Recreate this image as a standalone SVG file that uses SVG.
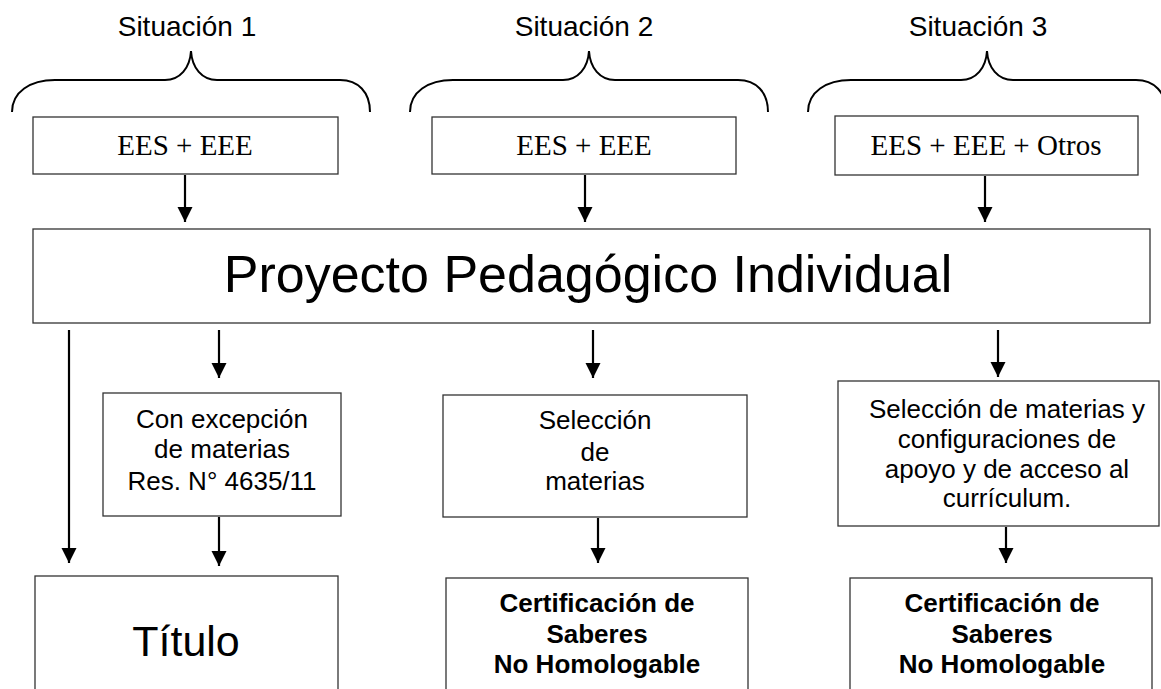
<svg xmlns="http://www.w3.org/2000/svg" width="1161" height="689" viewBox="0 0 1161 689">
<defs>
<marker id="ah" markerUnits="userSpaceOnUse" markerWidth="16" markerHeight="16" refX="15" refY="7.5" orient="auto">
<path d="M0,0 L15,7.5 L0,15 z" fill="#000"/>
</marker>
<style>
.box{fill:#fff;stroke:#333;stroke-width:1.3}
.brace{fill:none;stroke:#000;stroke-width:2}
.arr{stroke:#000;stroke-width:2.2;marker-end:url(#ah)}
.sit{font-family:"Liberation Sans",Arial,sans-serif;font-size:28px;text-anchor:middle;fill:#000}
.tnr{font-family:"Liberation Serif","Times New Roman",serif;font-size:29px;text-anchor:middle;fill:#000}
.t{font-family:"Liberation Sans",Arial,sans-serif;font-size:26px;text-anchor:middle;fill:#000}
.b{font-family:"Liberation Sans",Arial,sans-serif;font-size:26px;font-weight:bold;text-anchor:middle;fill:#000}
</style>
</defs>
<rect width="1161" height="689" fill="#fff"/>
<g id="situacion1">
<text class="sit" x="187" y="36">Situación 1</text>
<path class="brace" d="M12,112 C12,92 30,80 55,80 L165,80 C180,80 190,68 191,51 C192,68 202,80 217,80 L340,80 C358,80 370,92 370,112"/>
</g>
<g id="situacion2">
<text class="sit" x="584" y="36">Situación 2</text>
<path class="brace" transform="translate(398,0)" d="M12,112 C12,92 30,80 55,80 L165,80 C180,80 190,68 191,51 C192,68 202,80 217,80 L340,80 C358,80 370,92 370,112"/>
</g>
<g id="situacion3">
<text class="sit" x="978" y="36">Situación 3</text>
<path class="brace" transform="translate(796,0)" d="M12,112 C12,92 30,80 55,80 L165,80 C180,80 190,68 191,51 C192,68 202,80 217,80 L340,80 C358,80 370,92 370,112"/>
</g>
<g id="ees1"><rect class="box" x="33" y="117" width="305" height="57"/><text class="tnr" x="185" y="155">EES + EEE</text></g>
<g id="ees2"><rect class="box" x="432" y="117" width="304" height="57"/><text class="tnr" x="584" y="155">EES + EEE</text></g>
<g id="ees3"><rect class="box" x="835" y="116" width="303" height="59"/><text class="tnr" x="986" y="155">EES + EEE + Otros</text></g>
<g id="ppi"><rect class="box" x="33" y="229" width="1117" height="94"/><text class="t" style="font-size:52px" x="588" y="292">Proyecto Pedagógico Individual</text></g>
<g id="excepcion"><rect class="box" x="103" y="393" width="238" height="123"/>
<text class="t" x="222" y="428">Con excepción</text><text class="t" x="222" y="458">de materias</text><text class="t" x="222" y="490">Res. N° 4635/11</text></g>
<g id="seleccion"><rect class="box" x="443" y="395" width="304" height="122"/>
<text class="t" x="595" y="429">Selección</text><text class="t" x="595" y="461">de</text><text class="t" x="595" y="490">materias</text></g>
<g id="seleccion3"><rect class="box" x="838" y="381" width="321" height="145"/>
<text class="t" x="1007" y="418">Selección de materias y</text><text class="t" x="1007" y="448">configuraciones de</text><text class="t" x="1007" y="478">apoyo y de acceso al</text><text class="t" x="1007" y="507">currículum.</text></g>
<g id="titulo"><rect class="box" x="35" y="576" width="303" height="130"/><text class="t" style="font-size:43px" x="186" y="656">Título</text></g>
<g id="cert2"><rect class="box" x="446" y="578" width="302" height="130"/>
<text class="b" x="597" y="612">Certificación de</text><text class="b" x="597" y="643">Saberes</text><text class="b" x="597" y="673">No Homologable</text></g>
<g id="cert3"><rect class="box" x="850" y="578" width="302" height="130"/>
<text class="b" x="1002" y="612">Certificación de</text><text class="b" x="1002" y="643">Saberes</text><text class="b" x="1002" y="673">No Homologable</text></g>
<g id="connectors">
<line class="arr" x1="185" y1="175" x2="185" y2="222"/>
<line class="arr" x1="585" y1="175" x2="585" y2="222"/>
<line class="arr" x1="985" y1="176" x2="985" y2="222"/>
<line class="arr" x1="69" y1="330" x2="69" y2="563"/>
<line class="arr" x1="219" y1="330" x2="219" y2="378"/>
<line class="arr" x1="219" y1="517" x2="219" y2="566"/>
<line class="arr" x1="593" y1="330" x2="593" y2="378"/>
<line class="arr" x1="598" y1="518" x2="598" y2="563"/>
<line class="arr" x1="998" y1="330" x2="998" y2="377"/>
<line class="arr" x1="1006" y1="527" x2="1006" y2="563"/>
</g>
</svg>
